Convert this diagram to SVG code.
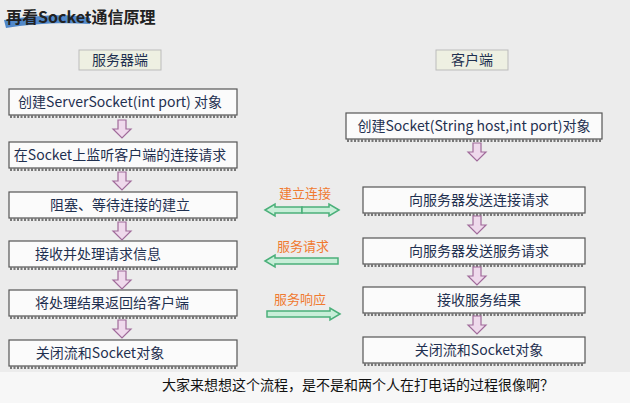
<svg xmlns="http://www.w3.org/2000/svg" width="630" height="403" viewBox="0 0 630 403">
<defs>
<style>
.b{fill:#fbfbfb;stroke:#555;stroke-width:1.2}
.sh{fill:none;stroke:#777;stroke-width:3;stroke-dasharray:2 1.5}
.t{font-family:"Noto Sans CJK SC","Noto Sans",sans-serif;font-size:14px;fill:#1f3050;text-anchor:middle}
.o{font-family:"Noto Sans CJK SC",sans-serif;font-size:13px;fill:#f07a30;text-anchor:middle}
.h{fill:#eef0e2;stroke:#bbb}
.da{fill:#efd9ec;stroke:#a06a9a;stroke-width:1.2}
.ga{fill:#c8eed8;stroke:#4bb07a;stroke-width:1.5}
</style>
<path id="dn" class="da" d="M-4,0 h8 v9 h5 l-9,9 l-9,-9 h5 z"/>
</defs>
<rect width="630" height="403" fill="#ececec"/>
<rect x="0" y="372" width="630" height="31" fill="#f7f7f7"/>
<path d="M4,20 C40,14 80,14 90,18 L90,24 C60,22 30,24 6,28 Z" fill="#2a6fc0" opacity="0.8"/>
<text x="6" y="23" font-family="Noto Sans CJK SC,sans-serif" font-size="16" font-weight="bold" fill="#222">再看Socket通信原理</text>
<g id="hs"><rect class="h" x="79" y="50" width="82" height="20"/><text class="t" x="120" y="65" fill="#333">服务器端</text></g>
<g id="hc"><rect class="h" x="436" y="50" width="72" height="20"/><text class="t" x="472" y="65">客户端</text></g>
<g id="s1"><rect class="b" x="9" y="89" width="228" height="26"/><path class="sh" d="M10,116.5H236"/><text class="t" x="120" y="107">创建ServerSocket(int port) 对象</text></g>
<g id="s2"><rect class="b" x="9" y="142" width="228" height="26"/><path class="sh" d="M10,169.5H236"/><text class="t" x="120" y="160">在Socket上监听客户端的连接请求</text></g>
<g id="s3"><rect class="b" x="9" y="192" width="228" height="26"/><path class="sh" d="M10,219.5H236"/><text class="t" x="120" y="210">阻塞、等待连接的建立</text></g>
<g id="s4"><rect class="b" x="9" y="241" width="228" height="26"/><path class="sh" d="M10,268.5H236"/><text class="t" x="98" y="259">接收并处理请求信息</text></g>
<g id="s5"><rect class="b" x="9" y="290" width="228" height="26"/><path class="sh" d="M10,317.5H236"/><text class="t" x="112" y="308">将处理结果返回给客户端</text></g>
<g id="s6"><rect class="b" x="9" y="340" width="228" height="26"/><path class="sh" d="M10,367.5H236"/><text class="t" x="100" y="358">关闭流和Socket对象</text></g>
<g id="c1"><rect class="b" x="346" y="113" width="256" height="26"/><path class="sh" d="M347,140.5H601"/><text class="t" x="474" y="131">创建Socket(String host,int port)对象</text></g>
<g id="c2"><rect class="b" x="363" y="187" width="222" height="26"/><path class="sh" d="M364,214.5H584"/><text class="t" x="479" y="205">向服务器发送连接请求</text></g>
<g id="c3"><rect class="b" x="363" y="238" width="222" height="26"/><path class="sh" d="M364,265.5H584"/><text class="t" x="479" y="256">向服务器发送服务请求</text></g>
<g id="c4"><rect class="b" x="363" y="287" width="222" height="26"/><path class="sh" d="M364,314.5H584"/><text class="t" x="479" y="305">接收服务结果</text></g>
<g id="c5"><rect class="b" x="363" y="337" width="222" height="26"/><path class="sh" d="M364,364.5H584"/><text class="t" x="479" y="355">关闭流和Socket对象</text></g>
<g id="connectors">
<use href="#dn" x="122" y="120"/><use href="#dn" x="122" y="172"/><use href="#dn" x="122" y="222"/><use href="#dn" x="122" y="271"/><use href="#dn" x="122" y="320"/>
<use href="#dn" x="477" y="143"/><use href="#dn" x="477" y="216"/><use href="#dn" x="477" y="267"/><use href="#dn" x="477" y="316"/>
<path class="ga" d="M265,210 l10,-6 v3 h27 v6 h-27 v3 z"/><path class="ga" d="M339,210 l-10,-6 v3 h-27 v6 h27 v3 z"/>
<path class="ga" d="M265,261 l10,-6 v3 h63 v6 h-63 v3 z"/>
<path class="ga" d="M340,314 l-10,-6 v3 h-63 v6 h63 v3 z"/>
<text class="o" x="305" y="198">建立连接</text>
<text class="o" x="303" y="251">服务请求</text>
<text class="o" x="300" y="304">服务响应</text>
</g>
<text x="162" y="390" font-family="Noto Sans CJK SC,sans-serif" font-size="14" fill="#111">大家来想想这个流程，是不是和两个人在打电话的过程很像啊？</text>
</svg>
